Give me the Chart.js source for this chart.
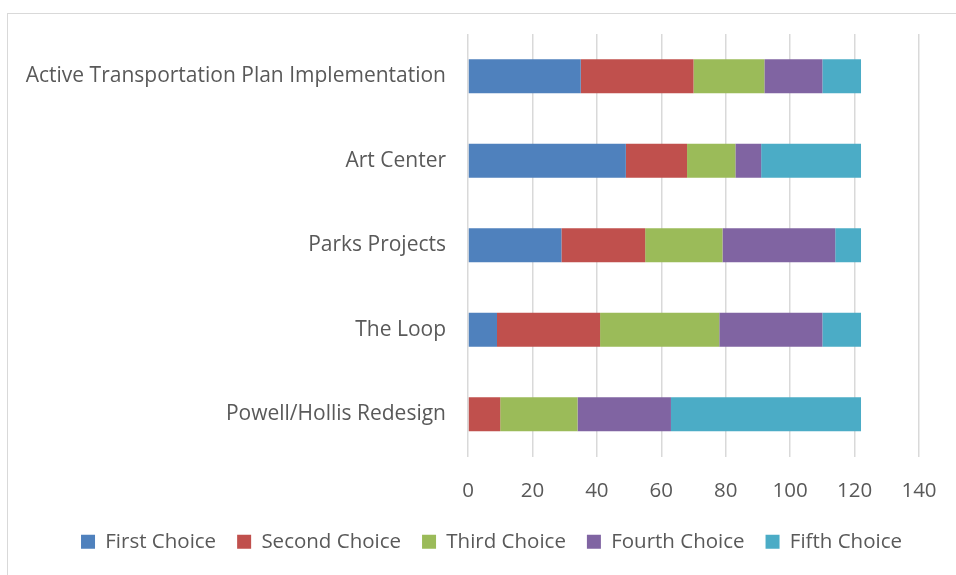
<!DOCTYPE html>
<html>
<head>
<meta charset="utf-8">
<script src="https://cdn.jsdelivr.net/npm/chart.js@4.4.0/dist/chart.umd.min.js"></script>
<style>
  html, body { margin: 0; padding: 0; background: #fff; }
  #wrap { position: relative; width: 956px; height: 575px; overflow: hidden; }
  #frame { position: absolute; left: 7px; top: 13px; width: 960px; height: 580px; border: 1.5px solid #d9d9d9; box-sizing: border-box; }
  #chart { position: absolute; left: 0; top: 0; }
</style>
</head>
<body>
<div id="wrap">
  <div id="frame"></div>
  <canvas id="chart" width="956" height="575"></canvas>
</div>
<script>
  const projects = [
    'Active Transportation Plan Implementation',
    'Art Center',
    'Parks Projects',
    'The Loop',
    'Powell/Hollis Redesign'
  ];
  const choiceNames = ['First Choice', 'Second Choice', 'Third Choice', 'Fourth Choice', 'Fifth Choice'];
  const firstChoice = [35, 49, 29, 9, 0];
  const secondChoice = [35, 19, 26, 32, 10];
  const thirdChoice = [22, 15, 24, 37, 24];
  const fourthChoice = [18, 8, 35, 32, 29];
  const fifthChoice = [12, 31, 8, 12, 59];
  const xTicks = [0, 20, 40, 60, 80, 100, 120, 140];

  const colors = ['#4f81bd', '#c0504d', '#9bbb59', '#8064a2', '#4bacc6'];
  const series = [firstChoice, secondChoice, thirdChoice, fourthChoice, fifthChoice];
  const textColor = '#595959';
  const fontFamily = '"Open Sans", sans-serif';

  const datasets = series.map((vals, i) => ({
    label: choiceNames[i],
    data: vals,
    backgroundColor: colors[i],
    borderWidth: 0,
    categoryPercentage: 1,
    barPercentage: 0.4
  }));

  // the legend in the original sits a bit right of the plot centre
  const legendShift = {
    id: 'legendShift',
    afterLayout(chart) {
      chart.legend.left += 32;
      chart.legend.right += 32;
    }
  };

  new Chart(document.getElementById('chart').getContext('2d'), {
    type: 'bar',
    data: { labels: projects, datasets: datasets },
    plugins: [legendShift],
    options: {
      indexAxis: 'y',
      responsive: false,
      animation: false,
      layout: { padding: { top: 34, right: 37, left: 0, bottom: 13 } },
      plugins: {
        title: { display: false },
        tooltip: { enabled: false },
        legend: {
          position: 'bottom',
          labels: {
            boxWidth: 14,
            boxHeight: 14,
            padding: 21,
            color: textColor,
            font: { family: fontFamily, size: 20.5 }
          }
        }
      },
      scales: {
        x: {
          stacked: true,
          min: 0,
          max: 140,
          afterBuildTicks: function (scale) {
            scale.ticks = xTicks.map(v => ({ value: v }));
          },
          afterFit: function (scale) {
            scale.height = 54;
            scale.paddingLeft = 0;
            scale.paddingRight = 0;
          },
          grid: { color: '#d9d9d9', lineWidth: 1.5, drawTicks: false },
          border: { display: false },
          ticks: {
            color: textColor,
            padding: 22,
            font: { family: fontFamily, size: 20.5 }
          }
        },
        y: {
          stacked: true,
          afterFit: function (scale) { scale.width = 468; },
          grid: { display: false },
          border: { display: false },
          ticks: {
            color: textColor,
            padding: 14,
            font: { family: fontFamily, size: 21 }
          }
        }
      }
    }
  });
</script>
</body>
</html>
